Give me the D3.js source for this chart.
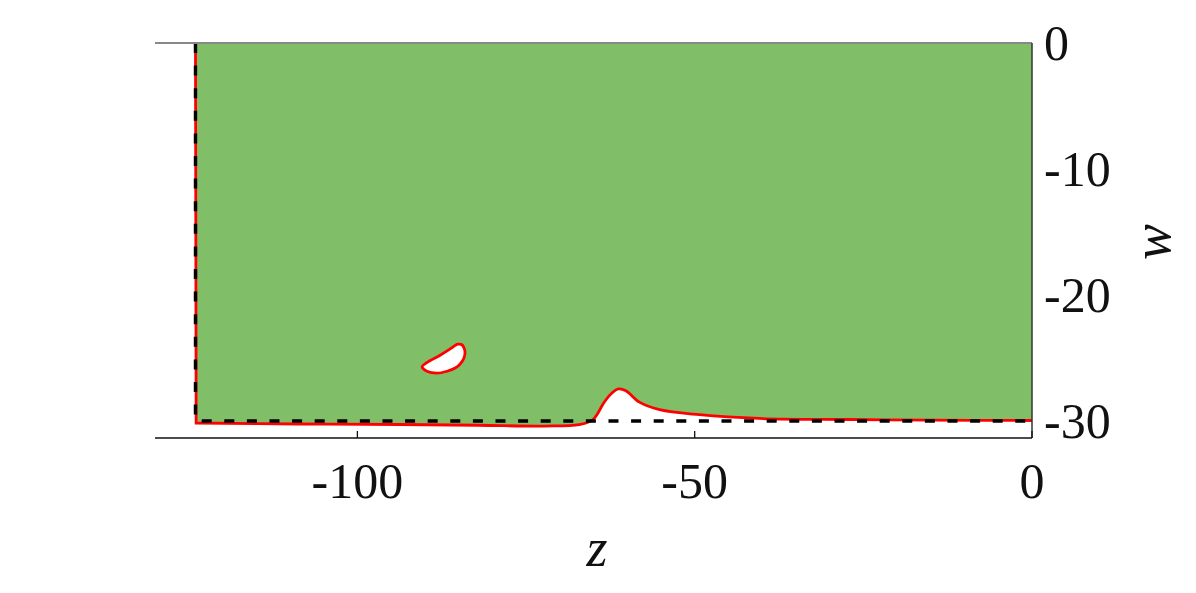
<!DOCTYPE html>
<meta charset="utf-8">
<style>
body { margin: 0; background: #fff; }
text { font-family: "Times New Roman", "Liberation Serif", Times, serif; fill: #111; }
</style>
<svg width="1196" height="593"></svg>
<script src="https://d3js.org/d3.v7.min.js"></script>
<script>

// lower edge of the green region (z, w)
var edgeZ = [0, -15, -27, -40.4, -49.3, -55.2, -58.2, -60.2, -61.3, -62.3, -63.4, -65.1, -67.1, -72.3, -82, -93.8, -108.6, -123.9];
var edgeW = [-29.96, -29.93, -29.88, -29.8, -29.5, -29.1, -28.5, -27.6, -27.46, -27.8, -28.5, -29.9, -30.28, -30.4, -30.34, -30.28, -30.24, -30.16];

// white island
var holeZ = [-90.4, -89.2, -87.8, -86.3, -85.5, -85.1, -84.5, -84.2, -84.05, -84.2, -84.8, -85.5, -86.7, -88.2, -89.7];
var holeW = [-25.7, -25.2, -24.8, -24.3, -24.0, -23.9, -23.95, -24.2, -24.5, -25.0, -25.5, -25.8, -26.05, -26.2, -26.05];

var zLeft = -124, wBottom = -30;
var xTicks = [-100, -50, 0];
var yTicks = [0, -10, -20, -30];

var svg = d3.select("svg");

var x = d3.scaleLinear().domain([-130, 0]).range([155, 1032]);
var y = d3.scaleLinear().domain([0, -31.35]).range([43, 438]);

var edge = edgeZ.map(function(z, i) { return [z, edgeW[i]]; });
var hole = holeZ.map(function(z, i) { return [z, holeW[i]]; });

var line = d3.line()
    .x(function(d) { return x(d[0]); })
    .y(function(d) { return y(d[1]); })
    .curve(d3.curveCatmullRom);

svg.append("path")
    .attr("d", "M" + x(zLeft) + "," + y(0) + "L" + x(0) + "," + y(0) + "L" + line(edge).slice(1) + "Z")
    .attr("fill", "#80bf67")
    .attr("stroke", "none");

// red outline: left edge and bottom edge
svg.append("path")
    .attr("d", line(edge) + "L" + x(zLeft) + "," + y(0))
    .attr("fill", "none")
    .attr("stroke", "#f00")
    .attr("stroke-width", 2.8);

svg.append("path")
    .attr("d", d3.line().x(function(d) { return x(d[0]); }).y(function(d) { return y(d[1]); })
      .curve(d3.curveCatmullRomClosed)(hole))
    .attr("fill", "#fff")
    .attr("stroke", "#f00")
    .attr("stroke-width", 2.8);

// dashed box
svg.append("path")
    .attr("d", "M" + x(zLeft) + "," + y(0) + "L" + x(zLeft) + "," + y(wBottom) + "L" + x(0) + "," + y(wBottom))
    .attr("fill", "none")
    .attr("stroke", "#000")
    .attr("stroke-width", 3.4)
    .attr("stroke-dasharray", "10,12.6");

// axes lines
svg.append("line")
    .attr("x1", x(-130)).attr("x2", x(0))
    .attr("y1", y(0)).attr("y2", y(0))
    .attr("stroke", "#888").attr("stroke-width", 2);

svg.append("line")
    .attr("x1", x(-130)).attr("x2", x(0))
    .attr("y1", y(-31.35)).attr("y2", y(-31.35))
    .attr("stroke", "#111").attr("stroke-width", 1.5);

svg.append("line")
    .attr("x1", x(0)).attr("x2", x(0))
    .attr("y1", y(0)).attr("y2", y(-31.35))
    .attr("stroke", "#333").attr("stroke-width", 1.5);

svg.selectAll(".xtick")
    .data(xTicks)
  .enter().append("line")
    .attr("x1", function(d) { return x(d); }).attr("x2", function(d) { return x(d); })
    .attr("y1", y(-31.35)).attr("y2", y(-31.35) - 7)
    .attr("stroke", "#111").attr("stroke-width", 1.3);

svg.selectAll(".xlab")
    .data(xTicks)
  .enter().append("text")
    .attr("x", function(d) { return x(d); })
    .attr("y", 498)
    .attr("text-anchor", "middle")
    .attr("font-size", 50)
    .text(function(d) { return d === 0 ? "0" : "-" + Math.abs(d); });

svg.selectAll(".ylab")
    .data(yTicks)
  .enter().append("text")
    .attr("x", 1044)
    .attr("y", function(d) { return y(d) + 17; })
    .attr("font-size", 50)
    .text(function(d) { return d === 0 ? "0" : "-" + Math.abs(d); });

svg.append("text")
    .attr("x", 597)
    .attr("y", 566)
    .attr("text-anchor", "middle")
    .attr("font-size", 54)
    .attr("font-style", "italic")
    .text("z");

svg.append("text")
    .attr("transform", "translate(1170,242) rotate(-90)")
    .attr("text-anchor", "middle")
    .attr("font-size", 54)
    .attr("font-style", "italic")
    .text("w");

</script>
